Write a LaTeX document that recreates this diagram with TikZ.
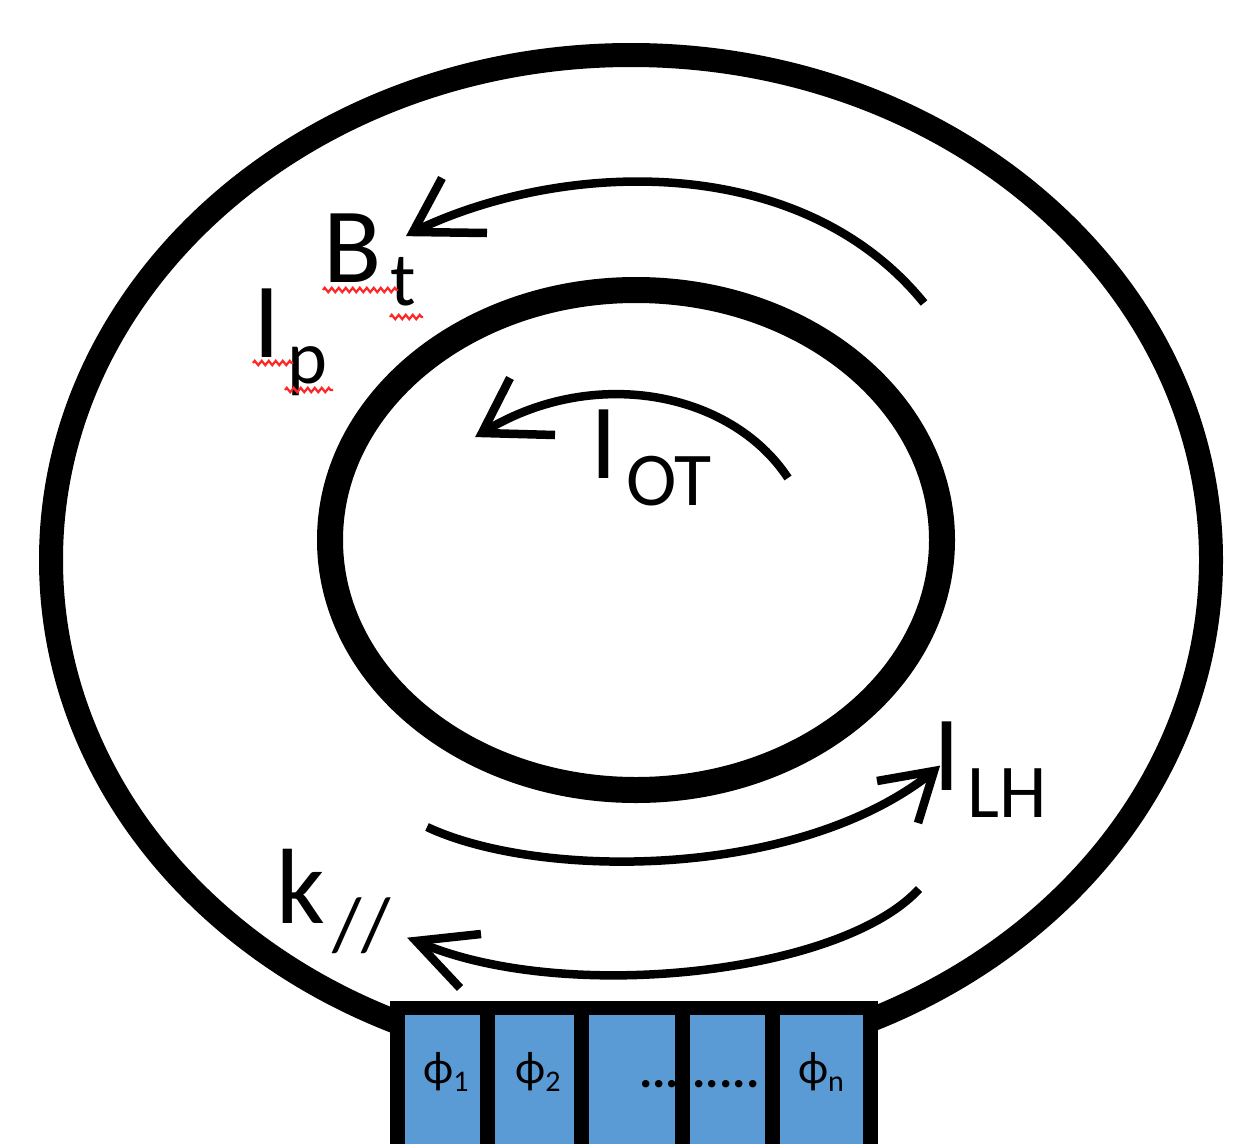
\documentclass[tikz,border=0pt]{standalone}
\usepackage{fontspec}
\setmainfont{Carlito}
\usetikzlibrary{decorations.pathmorphing}
\definecolor{cellblue}{HTML}{5B9BD5}
\begin{document}
\begin{tikzpicture}[x=1pt,y=-1pt,
  ring/.style={draw=black},
  cell/.style={fill=cellblue, inner sep=0, minimum width=#1, minimum height=140, anchor=north west},
  lab/.style={inner sep=0, anchor=base west, font=\fontsize{107}{107}\selectfont},
  sublab/.style={inner sep=0, anchor=base west, font=\fontsize{76}{76}\selectfont},
  philab/.style={inner sep=0, font=\fontsize{46}{46}\selectfont},
  shaft/.style={line width=8.5},
  barb/.style={line width=8.5, line join=miter},
  spell/.style={draw=red!85, line width=2.2, decorate, decoration={zigzag, segment length=7, amplitude=2.2}}
]
\useasboundingbox (0,0) rectangle (1242,1143);
% torus outlines
\draw[ring, line width=24] (631,560) ellipse [x radius=580pt, y radius=505pt];
\draw[ring, line width=26] (636,540) ellipse [x radius=306pt, y radius=250pt];
% antenna block
\fill[black] (390,1001) rectangle (878,1150);
\node[cell=75] (c1) at (405,1015) {};
\node[cell=79] (c2) at (495,1015) {};
\node[cell=86] (c3) at (589,1015) {};
\node[cell=75] (c4) at (690,1015) {};
\node[cell=83] (c5) at (780,1015) {};
\node[philab] (phi1) at (446,1072) {ϕ{\fontsize{30}{30}\selectfont\raisebox{-8pt}{1}}};
\node[philab] (phi2) at (538,1072) {ϕ{\fontsize{30}{30}\selectfont\raisebox{-8pt}{2}}};
\node[philab] (phin) at (821,1072) {ϕ{\fontsize{30}{30}\selectfont\raisebox{-8pt}{n}}};
\node[inner sep=0, anchor=base west, font=\fontsize{50}{50}\selectfont\bfseries] (dots) at (639,1087) {.........};
\fill[black] (675,1015) rectangle (690,1150);
% labels
\node[lab] (B) at (323,282) {B};
\node[sublab] (Bt) at (390,305) {t};
\node[lab] (Ip) at (253,357) {I};
\node[sublab] (Ipp) at (287,383) {p};
\node[lab] (Iot) at (590,478) {I};
\node[sublab] (Iots) at (626,505) {OT};
\node[lab] (Ilh) at (933,790) {I};
\node[sublab] (Ilhs) at (967,817) {LH};
\node[lab] (k) at (276,923) {k};
\node[sublab] (kpar) at (332,950) {//};
% spell-check squiggles
\draw[spell] (323,290) -- (398,290);
\draw[spell] (390,317) -- (423,317);
\draw[spell] (253,363) -- (293,363);
\draw[spell] (285,390) -- (333,390);
% B_t arrow
\coordinate (btA) at (924,303);
\coordinate (btT) at (413,232);
\coordinate (btB1) at (487,233);
\coordinate (btB2) at (442,178);
\draw[shaft] (btA) .. controls (800,150) and (560,160) .. (btT);
\draw[barb] (btB1) -- (btT) -- (btB2);
% I_OT arrow
\coordinate (otA) at (788,478);
\coordinate (otT) at (482,433);
\coordinate (otB1) at (555,435);
\coordinate (otB2) at (510,378);
\draw[shaft] (otA) .. controls (730,390) and (590,365) .. (otT);
\draw[barb] (otB1) -- (otT) -- (otB2);
% I_LH arrow
\coordinate (lhA) at (427,827);
\coordinate (lhT) at (934,771);
\coordinate (lhB1) at (877,781);
\coordinate (lhB2) at (918,823);
\draw[shaft] (lhA) .. controls (540,880) and (800,880) .. (lhT);
\draw[barb] (lhB1) -- (lhT) -- (lhB2);
% k arrow
\coordinate (kA) at (919,889);
\coordinate (kT) at (416,941);
\coordinate (kB1) at (481,934);
\coordinate (kB2) at (460,988);
\draw[shaft] (kA) .. controls (840,975) and (560,1005) .. (kT);
\draw[barb] (kB1) -- (kT) -- (kB2);
\end{tikzpicture}
\end{document}
